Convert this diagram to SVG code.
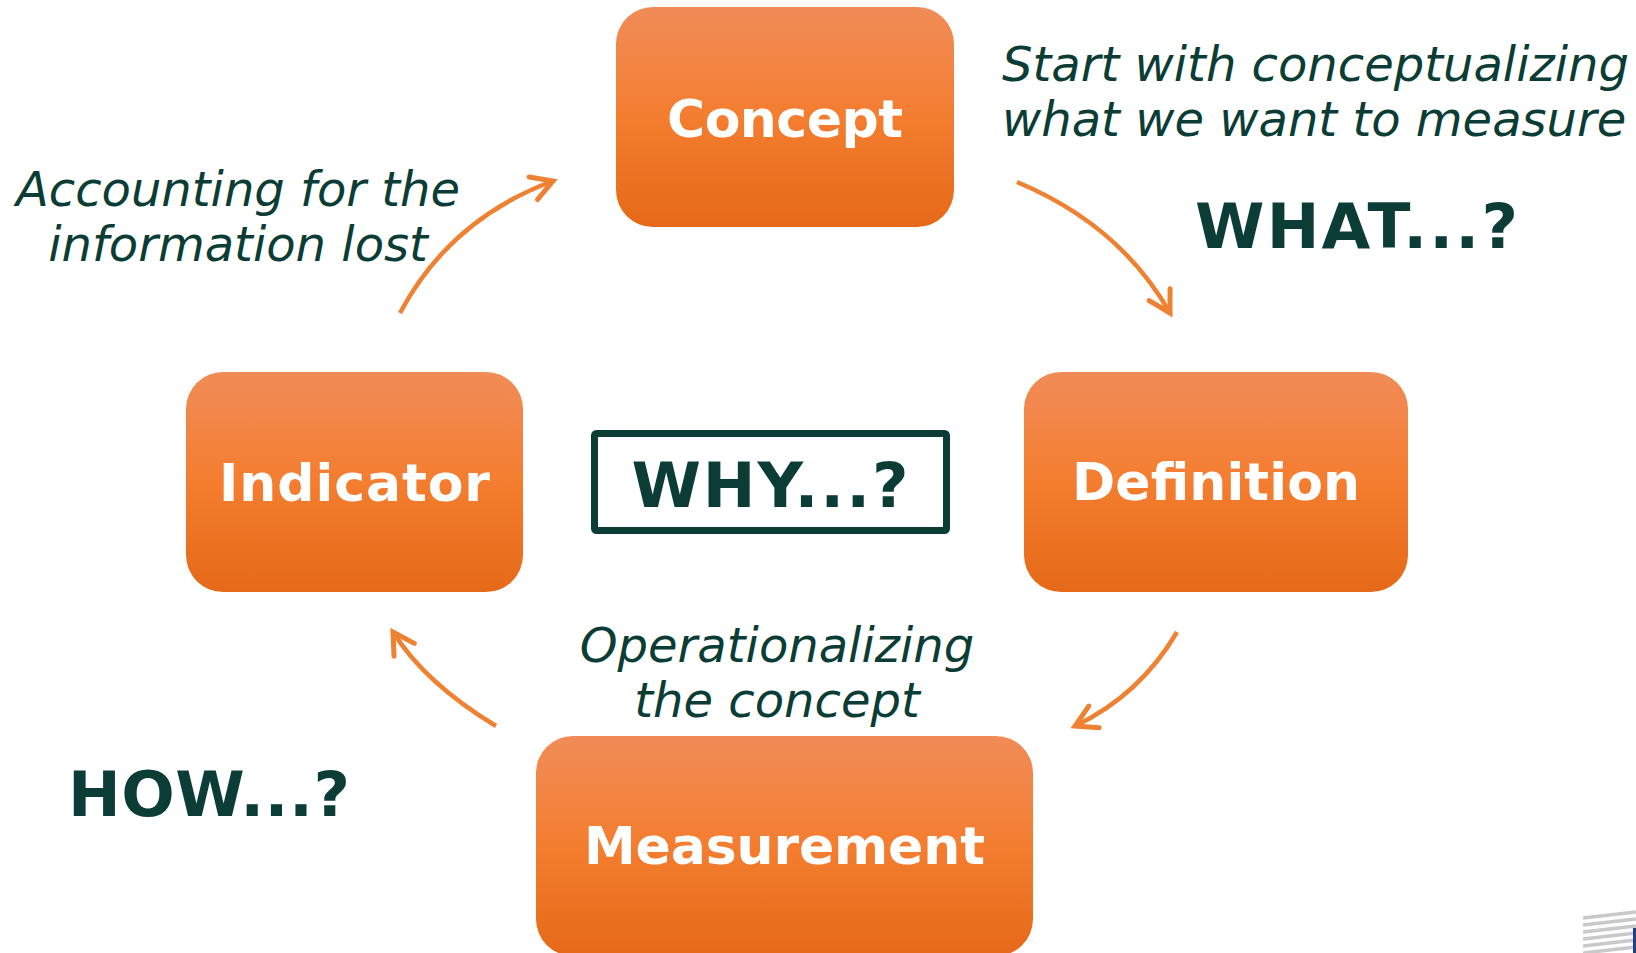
<svg xmlns="http://www.w3.org/2000/svg" width="1636" height="953" viewBox="0 0 1636 953">
  <defs>
    <linearGradient id="boxFill" x1="0" y1="0" x2="0" y2="1">
      <stop offset="0" stop-color="#F08C57"/>
      <stop offset="0.18" stop-color="#F2874A"/>
      <stop offset="0.5" stop-color="#F47D2F"/>
      <stop offset="1" stop-color="#E56918"/>
    </linearGradient>
    <marker id="chevron" markerUnits="userSpaceOnUse" markerWidth="40" markerHeight="40" viewBox="-30 -20 40 40" refX="0" refY="0" orient="auto">
      <path d="M-21,-12 L0,0 L-21,12" fill="none" stroke="#EF8133" stroke-width="5" stroke-linecap="round" stroke-linejoin="miter"/>
    </marker>
    <clipPath id="logoClip">
      <rect x="1583" y="908" width="53" height="45"/>
    </clipPath>
  </defs>
  <style>
    .box { fill: url(#boxFill); }
    .label { font-family: "DejaVu Sans", Verdana, sans-serif; font-weight: bold; font-size: 52px; fill: #FFFFFF; text-anchor: middle; }
    .note { font-family: "DejaVu Sans", Verdana, sans-serif; font-style: italic; font-size: 48px; fill: #0B3D36; }
    .ask { font-family: "DejaVu Sans", Verdana, sans-serif; font-weight: bold; font-size: 63px; fill: #0B3D36; text-anchor: middle; }
    .link { fill: none; stroke: #EF8133; stroke-width: 4.5; stroke-linecap: butt; marker-end: url(#chevron); }
  </style>

  <rect width="1636" height="953" fill="#FFFFFF"/>

  <!-- cycle connectors -->
  <g id="connectors">
    <path class="link" d="M1017,182 Q1120,225 1170,313"/>
    <path class="link" d="M1177,632 Q1140,695 1075,726"/>
    <path class="link" d="M496,726 Q425,683 393,632"/>
    <path class="link" d="M400,313 Q450,219 553,181"/>
  </g>

  <g id="concept">
    <rect class="box" x="616" y="7" width="338" height="220" rx="37"/>
    <text class="label" x="785" y="137" textLength="236" lengthAdjust="spacing">Concept</text>
  </g>

  <g id="definition">
    <rect class="box" x="1024" y="372" width="384" height="220" rx="37"/>
    <text class="label" x="1216" y="500" textLength="288" lengthAdjust="spacing">Definition</text>
  </g>

  <g id="measurement">
    <rect class="box" x="536" y="736" width="497" height="220" rx="37"/>
    <text class="label" x="784.5" y="864" textLength="401" lengthAdjust="spacing">Measurement</text>
  </g>

  <g id="indicator">
    <rect class="box" x="186" y="372" width="337" height="220" rx="37"/>
    <text class="label" x="354.5" y="501" textLength="271" lengthAdjust="spacing">Indicator</text>
  </g>

  <g id="why">
    <rect x="594.5" y="433.5" width="352" height="97" rx="2" fill="none" stroke="#0B3D36" stroke-width="7"/>
    <text class="ask" x="770" y="507" textLength="277" lengthAdjust="spacing">WHY...?</text>
  </g>

  <g id="notes">
    <text class="note" x="1002" y="81">Start with conceptualizing</text>
    <text class="note" x="1002" y="136">what we want to measure</text>
    <text class="note" text-anchor="middle" x="238" y="206">Accounting for the</text>
    <text class="note" text-anchor="middle" x="238" y="261">information lost</text>
    <text class="note" text-anchor="middle" x="777" y="662">Operationalizing</text>
    <text class="note" text-anchor="middle" x="777" y="717">the concept</text>
  </g>

  <g id="questions">
    <text class="ask" x="1356.5" y="248" textLength="323" lengthAdjust="spacing">WHAT...?</text>
    <text class="ask" x="209" y="816" textLength="282" lengthAdjust="spacing">HOW...?</text>
  </g>

  <!-- corner emblem -->
  <g id="emblem" clip-path="url(#logoClip)">
    <g stroke="#C9C9C9" stroke-width="3.5">
      <line x1="1583" y1="918" x2="1636" y2="912"/>
      <line x1="1583" y1="925" x2="1636" y2="919"/>
      <line x1="1583" y1="932" x2="1636" y2="926"/>
      <line x1="1583" y1="939" x2="1636" y2="933"/>
      <line x1="1583" y1="946" x2="1636" y2="940"/>
      <line x1="1583" y1="953" x2="1636" y2="947"/>
    </g>
    <rect x="1633" y="928" width="3" height="25" fill="#1E3F8C"/>
  </g>
</svg>
